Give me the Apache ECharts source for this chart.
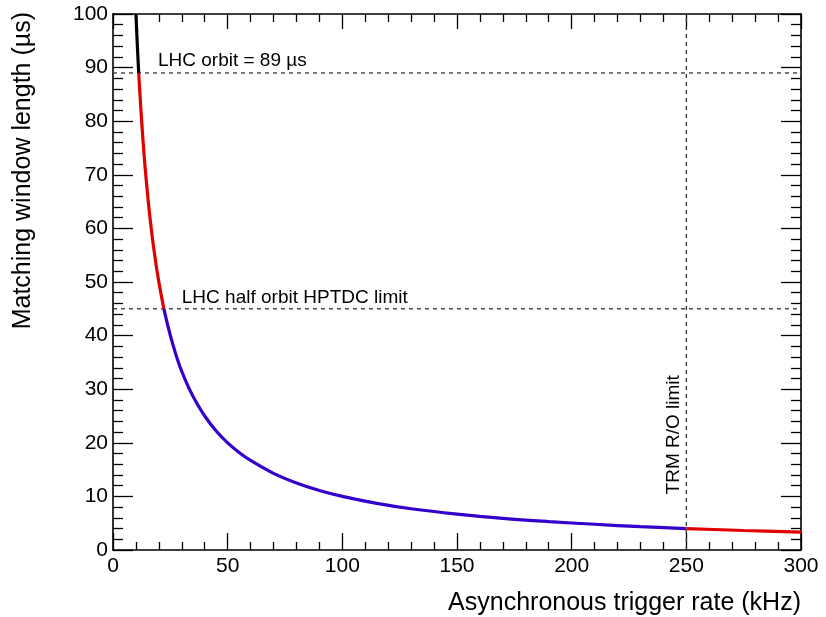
<!DOCTYPE html>
<html>
<head>
<meta charset="utf-8">
<script src="https://cdn.jsdelivr.net/npm/echarts@6/dist/echarts.min.js"></script>
<style>html,body{margin:0;padding:0;background:#fff}#c{width:826px;height:617px}</style>
</head>
<body>
<div id="c"></div>
<script>
// ---- data ----
const xTicks = [0, 50, 100, 150, 200, 250, 300];
const yTicks = [0, 10, 20, 30, 40, 50, 60, 70, 80, 90, 100];

const rateBlack = [10, 10.5, 11.2];
const winBlack  = [100, 95.2, 89];

const rateRed1 = [11.2, 12, 13, 14, 15, 16, 17, 18, 19, 20, 21, 22.2];
const winRed1  = [89, 83.3, 76.9, 71.4, 66.7, 62.5, 58.8, 55.6, 52.6, 50, 47.6, 45];

const rateBlue = [22.2, 24, 26, 28, 30, 33, 36, 40, 45, 50, 55, 60, 70, 80, 90, 100, 115, 130, 150, 170, 190, 210, 230, 250];
const winBlue  = [45, 41.7, 38.5, 35.7, 33.3, 30.3, 27.8, 25, 22.2, 20, 18.2, 16.7, 14.3, 12.5, 11.1, 10, 8.7, 7.7, 6.7, 5.9, 5.3, 4.8, 4.35, 4.0];

const rateRed2 = [250, 275, 300];
const winRed2  = [4.0, 3.64, 3.33];

const orbitLine = 89;      // LHC orbit
const halfOrbitLine = 45;  // HPTDC limit
const trmLimit = 250;      // TRM R/O limit

const xTitle = 'Asynchronous trigger rate (kHz)';
const yTitle = 'Matching window length (\u00b5s)';
const labelOrbit = 'LHC orbit = 89 \u00b5s';
const labelHalf = 'LHC half orbit HPTDC limit';
const labelTrm = 'TRM R/O limit';

// ---- chart ----
const FONT = '"Liberation Sans", Arial, Helvetica, sans-serif';
const zip = (a, b) => a.map((v, i) => [v, b[i]]);
const chart = echarts.init(document.getElementById('c'), null, {renderer: 'canvas'});

function xAx(pos, showLabel, major, minor) {
  return {
    type: 'value', position: pos, min: xTicks[0], max: xTicks[xTicks.length - 1],
    interval: xTicks[1] - xTicks[0],
    axisLine: {show: true, onZero: false, lineStyle: {color: '#000', width: 1.6}},
    axisTick: {show: true, inside: true, length: major, lineStyle: {color: '#000', width: 1.3}},
    minorTick: {show: true, splitNumber: 5, length: minor, lineStyle: {color: '#000', width: 1.3}},
    axisLabel: {show: showLabel, color: '#000', fontSize: 21, fontFamily: FONT, margin: 6},
    splitLine: {show: false}, minorSplitLine: {show: false}
  };
}
function yAx(pos, showLabel, major, minor) {
  return {
    type: 'value', position: pos, min: yTicks[0], max: yTicks[yTicks.length - 1],
    interval: yTicks[1] - yTicks[0],
    axisLine: {show: true, onZero: false, lineStyle: {color: '#000', width: 1.6}},
    axisTick: {show: true, inside: true, length: major, lineStyle: {color: '#000', width: 1.3}},
    minorTick: {show: true, splitNumber: 5, length: minor, lineStyle: {color: '#000', width: 1.3}},
    axisLabel: {show: showLabel, color: '#000', fontSize: 21, fontFamily: FONT, margin: 5},
    splitLine: {show: false}, minorSplitLine: {show: false}
  };
}

function curve(data, color) {
  return {type: 'line', data: data, xAxisIndex: 0, yAxisIndex: 0, symbol: 'none',
    smooth: 0.35, lineStyle: {color: color, width: 3.2}, z: 5, animation: false};
}
function dashed(data) {
  return {type: 'line', data: data, xAxisIndex: 0, yAxisIndex: 0, symbol: 'none',
    lineStyle: {color: '#333', width: 1.3, type: [4, 4]}, z: 3, animation: false, silent: true};
}

const option = {
  animation: false,
  backgroundColor: '#fff',
  grid: {left: 113, top: 14, right: 25, bottom: 67, containLabel: false},
  xAxis: [xAx('bottom', true, 17, 8), xAx('top', false, 15, 8)],
  yAxis: [yAx('left', true, 20, 10), yAx('right', false, 20, 10)],
  series: [
    dashed([[xTicks[0], orbitLine], [xTicks[xTicks.length - 1], orbitLine]]),
    dashed([[xTicks[0], halfOrbitLine], [xTicks[xTicks.length - 1], halfOrbitLine]]),
    dashed([[trmLimit, yTicks[0]], [trmLimit, yTicks[yTicks.length - 1]]]),
    curve(zip(rateBlack, winBlack), '#000000'),
    curve(zip(rateRed1, winRed1), '#e00000'),
    curve(zip(rateBlue, winBlue), '#3300cc'),
    curve(zip(rateRed2, winRed2), '#e00000')
  ]
};
chart.setOption(option);

// annotations anchored to data coordinates
const pOrbit = chart.convertToPixel({xAxisIndex: 0, yAxisIndex: 0}, [19.6, orbitLine]);
const pHalf = chart.convertToPixel({xAxisIndex: 0, yAxisIndex: 0}, [30, halfOrbitLine]);
const pTrm = chart.convertToPixel({xAxisIndex: 0, yAxisIndex: 0}, [trmLimit, 21.5]);
const pXEnd = chart.convertToPixel({xAxisIndex: 0, yAxisIndex: 0}, [xTicks[xTicks.length - 1], yTicks[0]]);
const pYEnd = chart.convertToPixel({xAxisIndex: 0, yAxisIndex: 0}, [xTicks[0], yTicks[yTicks.length - 1]]);

chart.setOption({
  graphic: [
    {type: 'text', x: pOrbit[0], y: pOrbit[1] - 3, style: {text: labelOrbit, fill: '#000', font: '19px ' + FONT, textAlign: 'left', textVerticalAlign: 'bottom'}},
    {type: 'text', x: pHalf[0], y: pHalf[1] - 2, style: {text: labelHalf, fill: '#000', font: '19px ' + FONT, textAlign: 'left', textVerticalAlign: 'bottom'}},
    {type: 'text', x: pTrm[0] - 13, y: pTrm[1], rotation: Math.PI / 2, style: {text: labelTrm, fill: '#000', font: '19px ' + FONT, textAlign: 'center', textVerticalAlign: 'middle'}},
    {type: 'text', x: pXEnd[0], y: pXEnd[1] + 53, style: {text: xTitle, fill: '#000', font: '25px ' + FONT, textAlign: 'right', textVerticalAlign: 'middle'}},
    {type: 'text', x: 23, y: pYEnd[1] - 2, rotation: Math.PI / 2, style: {text: yTitle, fill: '#000', font: '25px ' + FONT, textAlign: 'right', textVerticalAlign: 'middle'}}
  ]
});
</script>
</body>
</html>
